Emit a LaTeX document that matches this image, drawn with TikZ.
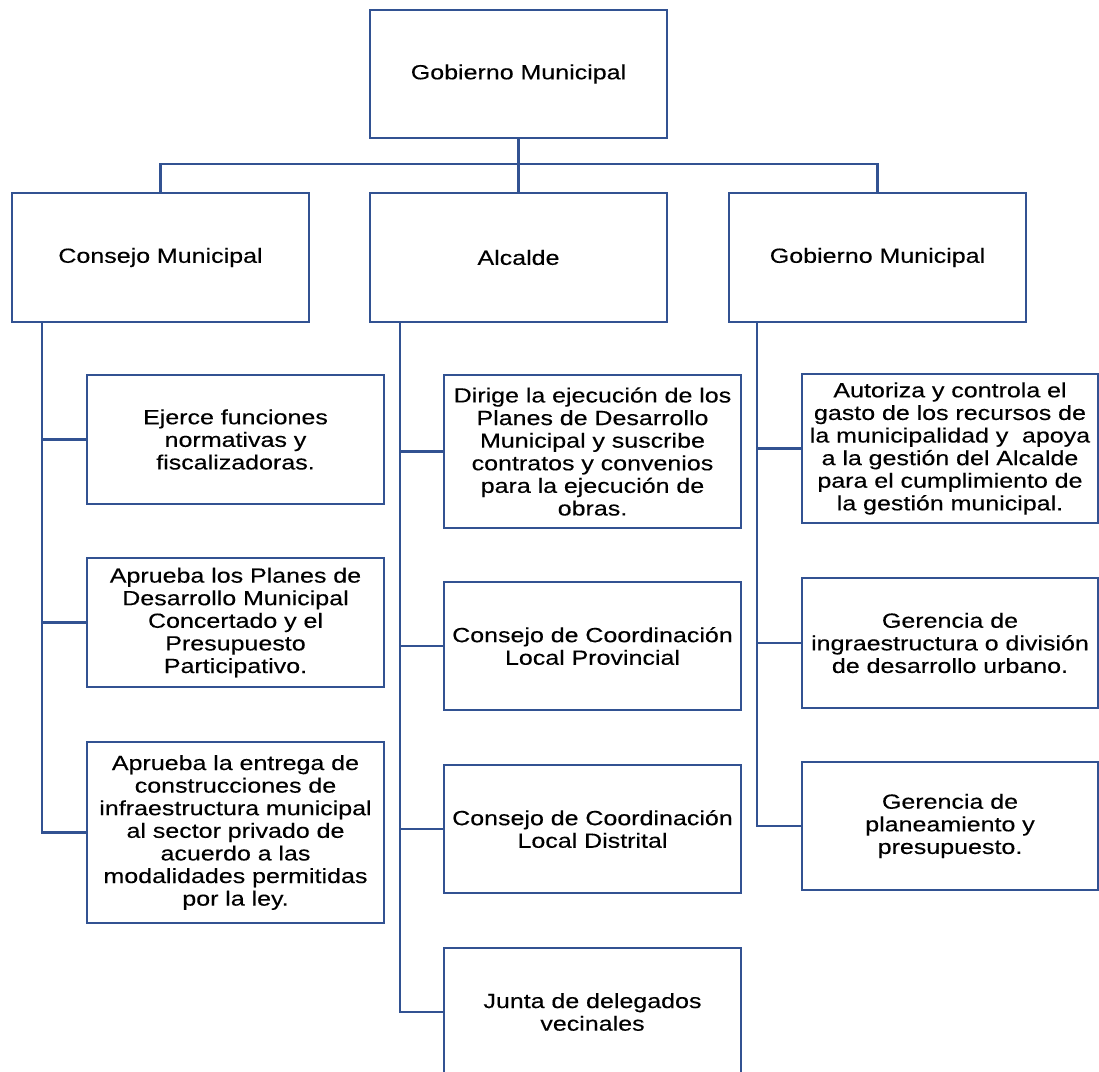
\documentclass[tikz,border=0pt]{standalone}
\usepackage{fontspec}
\newfontfamily\orgfont{Liberation Sans}[FakeStretch=1.22,FakeBold=0.3]
\usepackage{tikz}
\usetikzlibrary{positioning,calc}
\definecolor{orgblue}{RGB}{50,82,146}

\begin{document}
\begin{tikzpicture}[x=1pt,y=-1pt,font={\orgfont\fontsize{20.5}{22.6}\selectfont},
  box/.style={draw=orgblue,line width=2.5pt,minimum width=297pt,text width=290pt,align=center,inner sep=0pt},
  conn/.style={orgblue,line width=2.5pt}]
  \useasboundingbox (0,0) rectangle (1099,1071);
  \node[box,minimum height=128pt] (gob) at (518.5,74) {Gobierno Municipal};
  \node[box,minimum height=129pt] (cons) at (160.5,257.5) {Consejo Municipal};
  \node[box,minimum height=129pt] (alc) at (518.5,257.5) {Alcalde};
  \node[box,minimum height=129pt] (gob2) at (877.5,257.5) {Gobierno Municipal};
  \draw[conn] (gob.south) -- (alc.north);
  \draw[conn] (cons.north) -- ++(0,-28) -| (gob2.north);
  % Consejo Municipal
  \node[box,minimum height=129pt] (cons1) at (235.5,439.5) {Ejerce funciones\\normativas y\\fiscalizadoras.};
  \node[box,minimum height=129pt] (cons2) at (235.5,622.5) {Aprueba los Planes de\\Desarrollo Municipal\\Concertado y el\\Presupuesto\\Participativo.};
  \node[box,minimum height=181pt] (cons3) at (235.5,832.5) {Aprueba la entrega de\\construcciones de\\infraestructura municipal\\al sector privado de\\acuerdo a las\\modalidades permitidas\\por la ley.};
  % Alcalde
  \node[box,minimum height=153pt] (alc1) at (592.5,451.5) {Dirige la ejecución de los\\Planes de Desarrollo\\Municipal y suscribe\\contratos y convenios\\para la ejecución de\\obras.};
  \node[box,minimum height=128pt] (alc2) at (592.5,646) {Consejo de Coordinación\\Local Provincial};
  \node[box,minimum height=128pt] (alc3) at (592.5,829) {Consejo de Coordinación\\Local Distrital};
  \node[box,minimum height=128pt] (alc4) at (592.5,1012) {Junta de delegados\\vecinales};
  % Gobierno Municipal
  \node[box,minimum height=149pt,minimum width=296pt] (gob21) at (950,448.5) {Autoriza y controla el\\gasto de los recursos de\\la municipalidad y\ \ apoya\\a la gestión del Alcalde\\para el cumplimiento de\\la gestión municipal.};
  \node[box,minimum height=130pt,minimum width=296pt] (gob22) at (950,643) {Gerencia de\\ingraestructura o división\\de desarrollo urbano.};
  \node[box,minimum height=128pt,minimum width=296pt] (gob23) at (950,826) {Gerencia de\\planeamiento y\\presupuesto.};
  \coordinate (consbus) at ([xshift=31pt]cons.south west);
  \coordinate (alcbus) at ([xshift=31pt]alc.south west);
  \coordinate (gob2bus) at ([xshift=29pt]gob2.south west);
  \foreach \c in {cons1,cons2,cons3} \draw[conn] (consbus) |- (\c.west);
  \foreach \c in {alc1,alc2,alc3,alc4} \draw[conn] (alcbus) |- (\c.west);
  \foreach \c in {gob21,gob22,gob23} \draw[conn] (gob2bus) |- (\c.west);
\end{tikzpicture}
\end{document}
